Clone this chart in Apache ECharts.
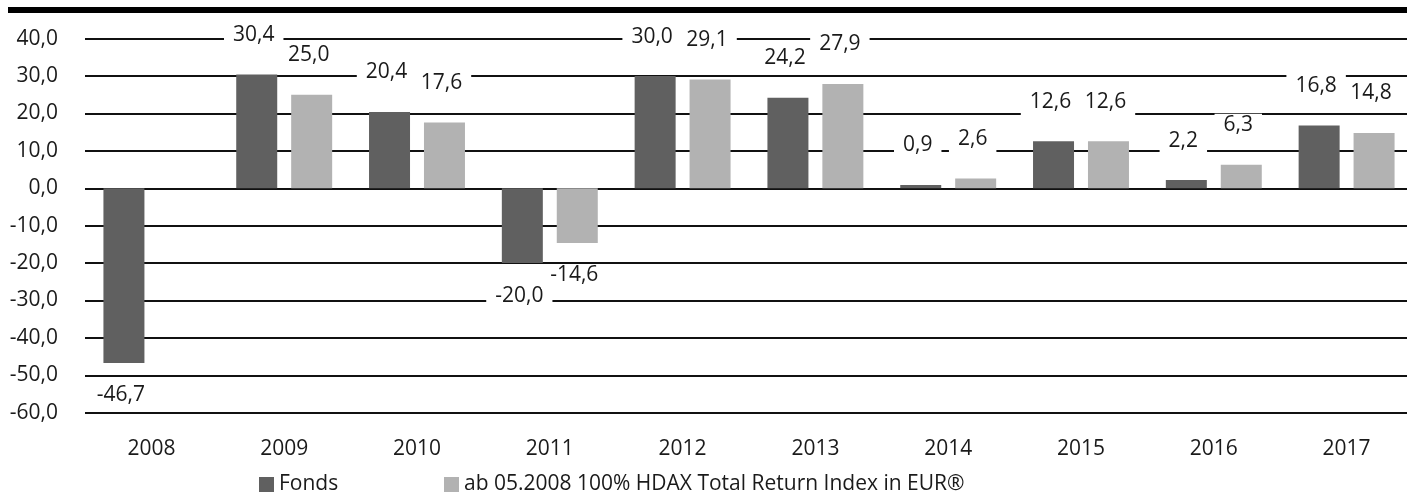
<!DOCTYPE html>
<html>
<head>
<meta charset="utf-8">
<script src="https://cdn.jsdelivr.net/npm/echarts@6/dist/echarts.min.js"></script>
<style>
html, body { margin: 0; padding: 0; background: #fff; }
#chart { width: 1407px; height: 495px; }
</style>
</head>
<body>
<div id="chart"></div>
<script>
var years = ['2008', '2009', '2010', '2011', '2012', '2013', '2014', '2015', '2016', '2017'];
var fonds = [-46.7, 30.4, 20.4, -20.0, 30.0, 24.2, 0.9, 12.6, 2.2, 16.8];
var hdax = [null, 25.0, 17.6, -14.6, 29.1, 27.9, 2.6, 12.6, 6.3, 14.8];
var seriesNames = ['Fonds', 'ab 05.2008 100% HDAX Total Return Index in EUR®'];

var fontFamily = '"Open Sans", "Noto Sans", sans-serif';
var textColor = '#1a1a1a';

function fmt(v) {
    return v.toFixed(1).replace('.', ',');
}

// label above positive bars, below negative ones, white box over gridlines
function withLabels(values) {
    return values.map(function (v) {
        if (v == null) return '-';
        return {
            value: v,
            label: {
                position: v < 0 ? 'bottom' : 'top',
                distance: v < 0 ? 21 : 26
            }
        };
    });
}

var barLabel = {
    show: true,
    formatter: function (p) { return fmt(p.value); },
    color: textColor,
    fontFamily: fontFamily,
    fontSize: 21,
    lineHeight: 21,
    backgroundColor: '#fff',
    padding: [1, 9, 3, 9],
    offset: [-3, 0]
};

var legendText = { color: textColor, fontSize: 21, fontFamily: fontFamily };

var chart = echarts.init(document.getElementById('chart'));
var option = {
    animation: false,
    backgroundColor: '#fff',
    textStyle: { fontFamily: fontFamily },
    graphic: [{
        type: 'rect',
        shape: { x: 8, y: 7, width: 1399, height: 6 },
        style: { fill: '#000' }
    }],
    legend: [{
        data: [seriesNames[0]],
        left: 259,
        top: 474,
        padding: 0,
        icon: 'rect',
        itemWidth: 15,
        itemHeight: 15,
        itemGap: 6,
        textStyle: legendText
    }, {
        data: [seriesNames[1]],
        left: 444,
        top: 474,
        padding: 0,
        icon: 'rect',
        itemWidth: 15,
        itemHeight: 15,
        textStyle: legendText
    }],
    grid: {
        left: 85,
        width: 1328,
        top: 38.7,
        bottom: 82.3,
        containLabel: false,
        outerBoundsMode: 'none'
    },
    xAxis: {
        type: 'category',
        data: years,
        axisLine: { show: false },
        axisTick: { show: false },
        axisLabel: {
            color: textColor,
            fontSize: 21,
            fontFamily: fontFamily,
            margin: 26
        }
    },
    yAxis: {
        type: 'value',
        min: -60,
        max: 40,
        interval: 10,
        axisLine: { show: false },
        axisTick: { show: false },
        axisLabel: {
            color: textColor,
            fontSize: 21,
            fontFamily: fontFamily,
            margin: 27,
            formatter: function (v) { return fmt(v); }
        },
        splitLine: { lineStyle: { color: '#111', width: 2 } }
    },
    series: [{
        name: seriesNames[0],
        type: 'bar',
        data: withLabels(fonds),
        barWidth: 41,
        barGap: '34%',
        itemStyle: { color: '#606060' },
        label: barLabel
    }, {
        name: seriesNames[1],
        type: 'bar',
        data: withLabels(hdax),
        barWidth: 41,
        barGap: '34%',
        itemStyle: { color: '#b2b2b2' },
        label: barLabel
    }]
};
chart.setOption(option);
</script>
</body>
</html>
